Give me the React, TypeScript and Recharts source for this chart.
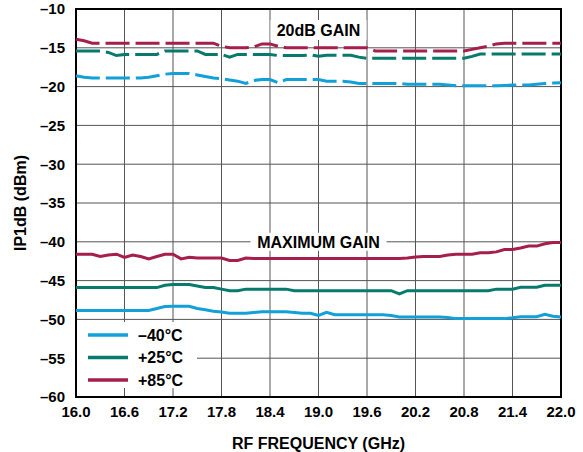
import React from 'react';
import {
  LineChart,
  Line,
  XAxis,
  YAxis,
  CartesianGrid,
  ReferenceArea,
  ReferenceDot,
  Legend,
} from 'recharts';

const freq = [
  16.0, 16.1, 16.2, 16.3, 16.4, 16.5, 16.6, 16.7, 16.8, 16.9,
  17.0, 17.1, 17.2, 17.3, 17.4, 17.5, 17.6, 17.7, 17.8, 17.9,
  18.0, 18.1, 18.2, 18.3, 18.4, 18.5, 18.6, 18.7, 18.8, 18.9,
  19.0, 19.1, 19.2, 19.3, 19.4, 19.5, 19.6, 19.7, 19.8, 19.9,
  20.0, 20.1, 20.2, 20.3, 20.4, 20.5, 20.6, 20.7, 20.8, 20.9,
  21.0, 21.1, 21.2, 21.3, 21.4, 21.5, 21.6, 21.7, 21.8, 21.9,
  22.0,
];

// 20dB GAIN (dashed)
const gain20Minus40 = [
  -18.6, -18.8, -18.9, -18.9, -18.9, -18.9, -18.9, -18.9, -18.9, -18.8,
  -18.6, -18.4, -18.3, -18.3, -18.3, -18.5, -18.7, -18.9, -19.0, -19.15,
  -19.3, -19.6, -19.2, -19.1, -19.1, -19.5, -19.1, -19.1, -19.1, -19.1,
  -19.1, -19.3, -19.3, -19.3, -19.4, -19.6, -19.6, -19.6, -19.6, -19.6,
  -19.6, -19.7, -19.7, -19.7, -19.7, -19.7, -19.8, -19.9, -19.9, -19.9,
  -19.9, -19.9, -19.9, -19.85, -19.8, -19.8, -19.8, -19.7, -19.6, -19.55,
  -19.5,
];
const gain20Plus25 = [
  -15.4, -15.4, -15.4, -15.4, -15.6, -16.0, -15.85, -15.85, -15.85, -15.85,
  -15.85, -15.4, -15.4, -15.4, -15.4, -15.4, -15.85, -15.85, -15.85, -16.2,
  -15.85, -15.85, -15.85, -15.85, -15.85, -16.0, -16.0, -16.0, -16.0, -15.9,
  -16.1, -15.95, -15.95, -15.95, -15.95, -16.2, -16.35, -16.35, -16.35, -16.35,
  -16.35, -16.35, -16.35, -16.35, -16.35, -16.35, -16.35, -16.35, -16.35, -16.1,
  -15.8, -15.8, -15.8, -15.8, -15.8, -15.8, -15.8, -15.8, -15.8, -15.8,
  -15.8,
];
const gain20Plus85 = [
  -13.9, -14.1, -14.4, -14.4, -14.4, -14.4, -14.4, -14.4, -14.4, -14.4,
  -14.4, -14.4, -14.4, -14.4, -14.4, -14.4, -14.4, -14.4, -14.8, -15.0,
  -15.0, -15.0, -14.9, -14.5, -14.5, -14.8, -15.0, -15.0, -15.0, -15.0,
  -15.0, -15.0, -15.0, -15.0, -15.0, -15.0, -15.0, -15.4, -15.4, -15.4,
  -15.4, -15.4, -15.4, -15.4, -15.4, -15.4, -15.4, -15.4, -15.4, -15.2,
  -15.0, -14.8, -14.5, -14.4, -14.4, -14.4, -14.4, -14.4, -14.4, -14.4,
  -14.4,
];

// MAXIMUM GAIN (solid)
const maxMinus40 = [
  -48.85, -48.85, -48.85, -48.85, -48.85, -48.85, -48.85, -48.85, -48.85, -48.85,
  -48.6, -48.35, -48.3, -48.3, -48.3, -48.6, -48.75, -48.95, -49.05, -49.2,
  -49.2, -49.2, -49.1, -49.0, -49.0, -49.0, -49.0, -49.1, -49.2, -49.2,
  -49.5, -49.1, -49.4, -49.4, -49.4, -49.4, -49.4, -49.4, -49.4, -49.5,
  -49.7, -49.7, -49.7, -49.7, -49.7, -49.7, -49.75, -49.9, -49.9, -49.9,
  -49.9, -49.9, -49.9, -49.9, -49.8, -49.65, -49.65, -49.65, -49.35, -49.6,
  -49.7,
];
const maxPlus25 = [
  -45.9, -45.9, -45.9, -45.9, -45.9, -45.9, -45.9, -45.9, -45.9, -45.9,
  -45.9, -45.6, -45.5, -45.5, -45.5, -45.7, -45.9, -45.9, -46.1, -46.3,
  -46.3, -46.1, -46.1, -46.1, -46.1, -46.1, -46.1, -46.3, -46.3, -46.3,
  -46.3, -46.3, -46.3, -46.3, -46.3, -46.3, -46.3, -46.3, -46.3, -46.3,
  -46.7, -46.3, -46.3, -46.3, -46.3, -46.3, -46.3, -46.3, -46.3, -46.3,
  -46.3, -46.3, -46.1, -46.1, -46.1, -45.85, -45.85, -45.85, -45.6, -45.6,
  -45.6,
];
const maxPlus85 = [
  -41.6, -41.6, -41.6, -41.9, -41.7, -41.6, -42.0, -41.7, -41.9, -42.2,
  -41.9, -41.6, -41.6, -42.2, -42.0, -42.1, -42.1, -42.1, -42.1, -42.4,
  -42.4, -42.1, -42.15, -42.15, -42.15, -42.15, -42.15, -42.15, -42.15, -42.15,
  -42.15, -42.15, -42.15, -42.15, -42.15, -42.15, -42.15, -42.15, -42.15, -42.15,
  -42.15, -42.1, -41.95, -41.9, -41.9, -41.9, -41.7, -41.6, -41.6, -41.6,
  -41.4, -41.4, -41.3, -41.0, -41.0, -40.8, -40.55, -40.55, -40.25, -40.1,
  -40.1,
];

const xTicks = [16.0, 16.6, 17.2, 17.8, 18.4, 19.0, 19.6, 20.2, 20.8, 21.4, 22.0];
const yTicks = [-60, -55, -50, -45, -40, -35, -30, -25, -20, -15, -10];
const seriesLabels = ['–40°C', '+25°C', '+85°C'];
const seriesColors = ['#12A0D8', '#067A6C', '#A51E4C'];
const annotationTexts = ['20dB GAIN', 'MAXIMUM GAIN'];

const data = freq.map((f, i) => ({
  f,
  g20m40: gain20Minus40[i],
  g20p25: gain20Plus25[i],
  g20p85: gain20Plus85[i],
  mxm40: maxMinus40[i],
  mxp25: maxPlus25[i],
  mxp85: maxPlus85[i],
}));

const FONT = '"Liberation Sans", Arial, Helvetica, sans-serif';

const fmtY = (v: number) => (v < 0 ? `–${Math.abs(v)}` : `${v}`);
const fmtX = (v: number) => v.toFixed(1);

const makeLabelShape = (text: string, boxW: number, boxH: number) => (props: any) => {
  const { cx, cy } = props;
  return (
    <g>
      <rect x={cx - boxW / 2} y={cy - boxH / 2} width={boxW} height={boxH} fill="#fff" />
      <text
        x={cx}
        y={cy}
        dy="0.36em"
        textAnchor="middle"
        fontFamily={FONT}
        fontWeight="bold"
        fontSize={16}
        fill="#000"
      >
        {text}
      </text>
    </g>
  );
};

const LegendBox = () => (
  <svg width={120} height={66} style={{ display: 'block', background: '#fff' }}>
    {seriesLabels.map((lab, i) => (
      <g key={lab}>
        <line x1={11} x2={51} y1={13 + i * 22.5} y2={13 + i * 22.5} stroke={seriesColors[i]} strokeWidth={3.5} />
        <text
          x={61}
          y={13 + i * 22.5}
          dy="0.36em"
          fontFamily={FONT}
          fontWeight="bold"
          fontSize={16}
          fill="#000"
        >
          {lab}
        </text>
      </g>
    ))}
  </svg>
);

export default function App() {
  return (
    <div style={{ position: 'absolute', left: 0, top: 0, fontFamily: FONT }}>
      <LineChart
        width={583}
        height={452}
        data={data}
        margin={{ top: 9, right: 22, left: 0, bottom: 0 }}
      >
        <CartesianGrid stroke="#555" strokeWidth={1} />
        <XAxis
          dataKey="f"
          type="number"
          domain={[16, 22]}
          ticks={xTicks}
          tickFormatter={fmtX}
          height={55}
          axisLine={false}
          tickLine={false}
          tickSize={6}
          tickMargin={3}
          tick={{ fontSize: 15, fontWeight: 'bold', fill: '#000', fontFamily: FONT }}
          interval={0}
          label={{
            value: 'RF FREQUENCY (GHz)',
            position: 'insideBottom',
            offset: 3,
            style: { fontSize: 16, fontWeight: 'bold', fill: '#000', fontFamily: FONT },
          }}
        />
        <YAxis
          type="number"
          domain={[-60, -10]}
          ticks={yTicks}
          tickFormatter={fmtY}
          width={76}
          axisLine={false}
          tickLine={false}
          tickSize={6}
          tickMargin={5}
          tick={{ fontSize: 15, fontWeight: 'bold', fill: '#000', fontFamily: FONT }}
          interval={0}
          label={{
            value: 'IP1dB (dBm)',
            angle: -90,
            position: 'insideLeft',
            offset: 20,
            style: { textAnchor: 'middle', fontSize: 16, fontWeight: 'bold', fill: '#000', fontFamily: FONT },
          }}
        />
        <ReferenceArea x1={16} x2={22} y1={-60} y2={-10} fill="none" stroke="#000" strokeWidth={2} />
        <Line dataKey="g20m40" stroke={seriesColors[0]} strokeWidth={3} strokeDasharray="24 6" dot={false} isAnimationActive={false} />
        <Line dataKey="g20p25" stroke={seriesColors[1]} strokeWidth={3} strokeDasharray="24 6" dot={false} isAnimationActive={false} />
        <Line dataKey="g20p85" stroke={seriesColors[2]} strokeWidth={3} strokeDasharray="24 6" dot={false} isAnimationActive={false} />
        <Line dataKey="mxm40" stroke={seriesColors[0]} strokeWidth={3} dot={false} isAnimationActive={false} />
        <Line dataKey="mxp25" stroke={seriesColors[1]} strokeWidth={3} dot={false} isAnimationActive={false} />
        <Line dataKey="mxp85" stroke={seriesColors[2]} strokeWidth={3} dot={false} isAnimationActive={false} />
        <ReferenceDot x={19.0} y={-12.7} r={0} shape={makeLabelShape(annotationTexts[0], 96, 20)} />
        <ReferenceDot x={19.0} y={-40} r={0} shape={makeLabelShape(annotationTexts[1], 136, 18)} />
        <Legend
          layout="vertical"
          align="center"
          verticalAlign="middle"
          content={() => <LegendBox />}
          wrapperStyle={{ position: 'absolute', left: 77, top: 322, width: 120, height: 66, margin: 0, padding: 0 }}
        />
      </LineChart>
    </div>
  );
}
